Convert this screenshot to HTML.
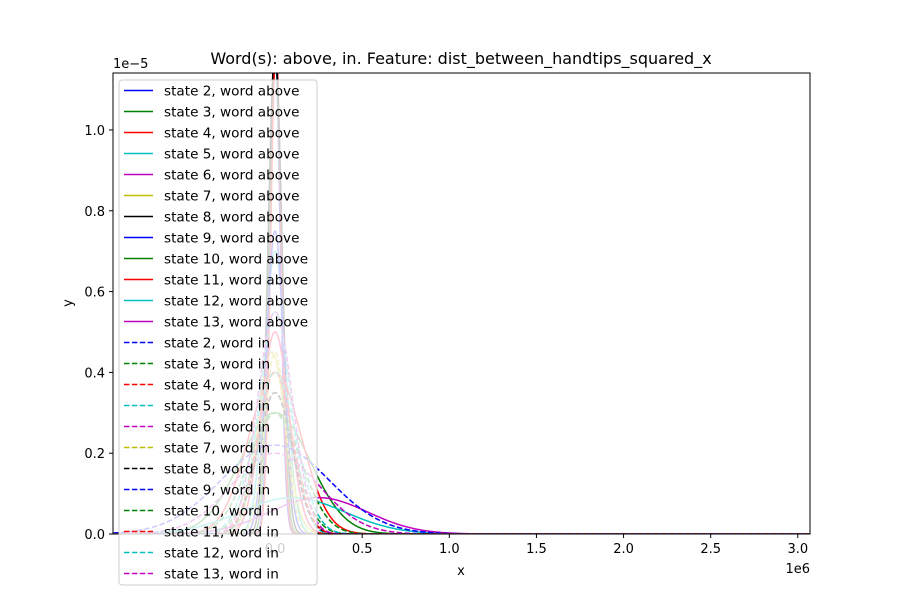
<!DOCTYPE html>
<html><head><meta charset="utf-8"><style>
body{margin:0;background:#fff;font-family:"Liberation Sans","DejaVu Sans",sans-serif;}
svg text{font-family:"DejaVu Sans","Liberation Sans",sans-serif;}
</style></head><body>
<svg id="chart" width="900" height="600" xmlns="http://www.w3.org/2000/svg">
<defs><clipPath id="clip"><rect x="113" y="73" width="697" height="461"/></clipPath></defs>
<rect width="900" height="600" fill="#fff"/>
<text x="461" y="64" font-size="16" text-anchor="middle">Word(s): above, in. Feature: dist_between_handtips_squared_x</text>
<g id="curves" clip-path="url(#clip)"></g>
<rect x="113" y="73" width="697" height="461" fill="none" stroke="#000" stroke-width="1"/>
<g id="axes"></g>
<text x="461" y="575" font-size="13" text-anchor="middle">x</text>
<text x="72" y="303" font-size="13" text-anchor="middle" transform="rotate(-90 72 303)">y</text>
<text x="810" y="573" font-size="13" text-anchor="end">1e6</text>
<text x="113" y="68" font-size="13">1e−5</text>
<g id="legend"></g>
</svg>
<script>
const colors=['#0000ff','#008000','#ff0000','#00bfbf','#bf00bf','#bfbf00','#000000','#0000ff','#008000','#ff0000','#00bfbf','#bf00bf'];
const states=[2,3,4,5,6,7,8,9,10,11,12,13];
// per-series curve parameters: peak height (1e-5), center (1e6), spread (1e6)
const aboveAmp=[1.2,1.2,1.2,0.7,0.5,0.45,1.2,0.75,0.3,0.4,0.09,0.09];
const aboveMean=[0,0,0.005,0,0,-0.02,0,0,0,0,0.1,0.25];
const aboveSd=[0.03,0.035,0.03,0.06,0.08,0.08,0.04,0.05,0.2,0.15,0.3,0.28];
const inAmp=[0.35,0.3,0.5,0.55,0.2,0.45,0.35,0.22,0.3,0.4,0.4,0.55];
const inMean=[0,0,0,0,0,0,0,0,0,0,0,0];
const inSd=[0.1,0.12,0.08,0.09,0.25,0.06,0.1,0.31,0.15,0.1,0.12,0.1];
const xTicks=[0,0.5,1.0,1.5,2.0,2.5,3.0];
const xTickLabels=['0.0','0.5','1.0','1.5','2.0','2.5','3.0'];
const yTicks=[0,0.2,0.4,0.6,0.8,1.0];
const yTickLabels=['0.0','0.2','0.4','0.6','0.8','1.0'];
const X0=113,X1=810,Y0=73,Y1=534,xmin=-0.93,xmax=3.07,ymin=0,ymax=1.141;
const sx=v=>X0+(v-xmin)/(xmax-xmin)*(X1-X0);
const sy=v=>Y1-(v-ymin)/(ymax-ymin)*(Y1-Y0);
const NS='http://www.w3.org/2000/svg';
const curves=document.getElementById('curves');
function curve(x,a,m,s){return a*Math.exp(-0.5*((x-m)/s)**2);}
function drawSeries(a,m,s,color,dashed,name){
  let d='';
  for(let i=0;i<=1200;i++){const x=xmin+(xmax-xmin)*i/1200;const y=Math.min(curve(x,a,m,s),2);d+=(i?'L':'M')+sx(x).toFixed(2)+','+sy(y).toFixed(2);}
  const p=document.createElementNS(NS,'path');
  p.setAttribute('d',d);p.setAttribute('fill','none');p.setAttribute('stroke',color);p.setAttribute('stroke-width','1.5');
  if(dashed)p.setAttribute('stroke-dasharray','5.5,2.4');
  
  
  curves.appendChild(p);
}
states.forEach((st,i)=>drawSeries(aboveAmp[i],aboveMean[i],aboveSd[i],colors[i],false,'line-state-'+st+'-above'));
states.forEach((st,i)=>drawSeries(inAmp[i],inMean[i],inSd[i],colors[i],true,'line-state-'+st+'-in'));
const axes=document.getElementById('axes');
xTicks.forEach((t,i)=>{
  const l=document.createElementNS(NS,'line');
  l.setAttribute('x1',sx(t));l.setAttribute('x2',sx(t));l.setAttribute('y1',Y1);l.setAttribute('y2',Y1+4);l.setAttribute('stroke','#000');
  
  
  axes.appendChild(l);
  const tx=document.createElementNS(NS,'text');
  tx.setAttribute('x',sx(t));tx.setAttribute('y',Y1+19);tx.setAttribute('font-size','13');tx.setAttribute('text-anchor','middle');tx.textContent=xTickLabels[i];
  
  
  axes.appendChild(tx);
});
yTicks.forEach((t,i)=>{
  const l=document.createElementNS(NS,'line');
  l.setAttribute('x1',X0-4);l.setAttribute('x2',X0);l.setAttribute('y1',sy(t));l.setAttribute('y2',sy(t));l.setAttribute('stroke','#000');
  
  
  axes.appendChild(l);
  const tx=document.createElementNS(NS,'text');
  tx.setAttribute('x',X0-8);tx.setAttribute('y',sy(t)+5);tx.setAttribute('font-size','13');tx.setAttribute('text-anchor','end');tx.textContent=yTickLabels[i];
  
  
  axes.appendChild(tx);
});
const lg=document.getElementById('legend');
const box=document.createElementNS(NS,'rect');
box.setAttribute('x',119);box.setAttribute('y',80);box.setAttribute('width',198);box.setAttribute('height',505);box.setAttribute('rx',3);
box.setAttribute('fill','#fff');box.setAttribute('fill-opacity','0.8');box.setAttribute('stroke','#ccc');


lg.appendChild(box);
const labels=[];
states.forEach((st,i)=>labels.push(['state '+st+', word above',colors[i],false]));
states.forEach((st,i)=>labels.push(['state '+st+', word in',colors[i],true]));
labels.forEach((lb,i)=>{
  const y=90.5+i*21;
  const l=document.createElementNS(NS,'line');
  l.setAttribute('x1',124);l.setAttribute('x2',153);l.setAttribute('y1',y);l.setAttribute('y2',y);l.setAttribute('stroke',lb[1]);l.setAttribute('stroke-width','1.5');
  if(lb[2])l.setAttribute('stroke-dasharray','5.5,2.4');
  
  
  lg.appendChild(l);
  const tx=document.createElementNS(NS,'text');
  tx.setAttribute('x',164);tx.setAttribute('y',y+5);tx.setAttribute('font-size','13.6');tx.textContent=lb[0];
  
  
  lg.appendChild(tx);
});
</script>
</body></html>
